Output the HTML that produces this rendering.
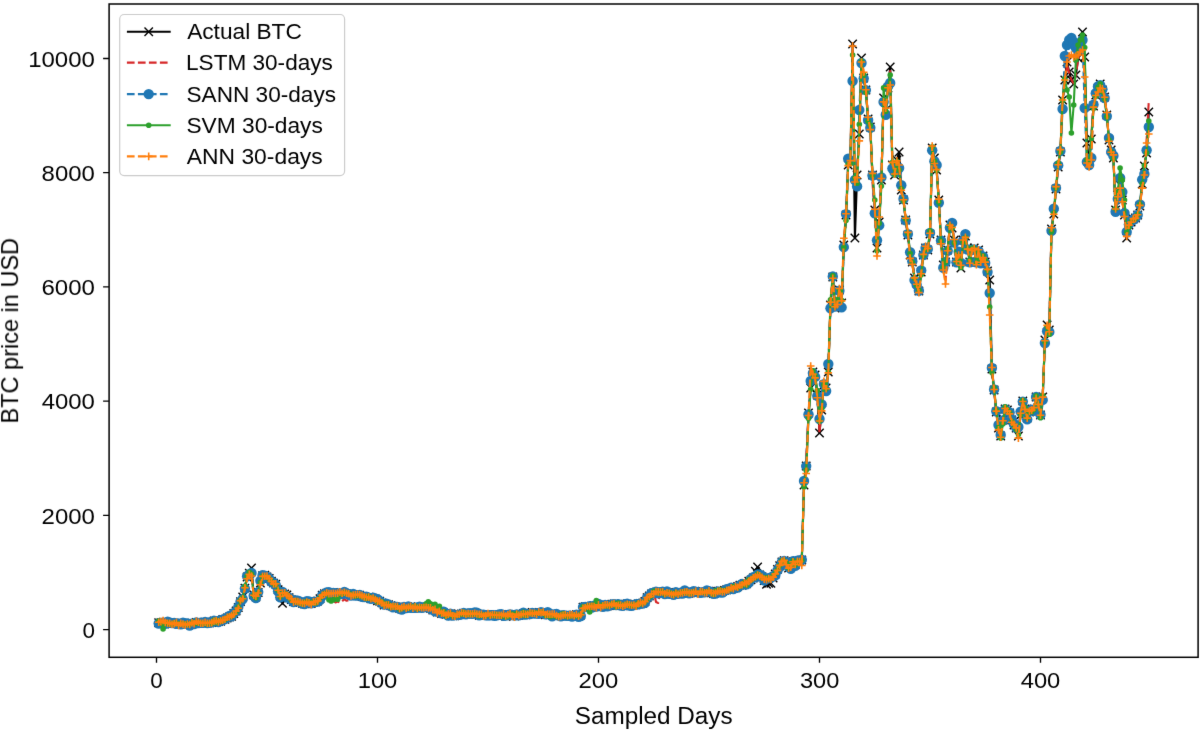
<!DOCTYPE html>
<html><head><meta charset="utf-8"><style>
html,body{margin:0;padding:0;background:#fff;}
svg{display:block;}
svg{will-change:transform;}
text{font-family:"Liberation Sans",sans-serif;fill:#000;}
</style></head><body>
<svg width="1200" height="730" viewBox="0 0 1200 730">
<defs>
<filter id="bl" x="0" y="0" width="1200" height="730" filterUnits="userSpaceOnUse" color-interpolation-filters="sRGB"><feConvolveMatrix order="3" kernelMatrix="0.00524 0.06192 0.00524 0.06192 0.73137 0.06192 0.00524 0.06192 0.00524" edgeMode="duplicate"/></filter>
<clipPath id="ax"><rect x="109.1" y="4.0" width="1089.0" height="653.3"/></clipPath>
<marker id="mx" markerUnits="userSpaceOnUse" markerWidth="14" markerHeight="14" refX="7" refY="7" overflow="visible">
<path d="M2.8,2.8L11.2,11.2M11.2,2.8L2.8,11.2" stroke="#000" stroke-width="1.4" fill="none"/></marker>
<marker id="mo" markerUnits="userSpaceOnUse" markerWidth="14" markerHeight="14" refX="7" refY="7" overflow="visible">
<circle cx="7" cy="7" r="5.2" fill="#1f77b4"/></marker>
<marker id="md" markerUnits="userSpaceOnUse" markerWidth="14" markerHeight="14" refX="7" refY="7" overflow="visible">
<circle cx="7" cy="7" r="2.8" fill="#2ca02c"/></marker>
<marker id="mp" markerUnits="userSpaceOnUse" markerWidth="14" markerHeight="14" refX="7" refY="7" overflow="visible">
<path d="M7,3.2V10.8M3.2,7H10.8" stroke="#ff7f0e" stroke-width="1.6" fill="none"/></marker>
</defs>
<g filter="url(#bl)">
<rect width="1200" height="730" fill="#fff"/>
<g clip-path="url(#ax)" fill="none" stroke-linejoin="round">
<polyline points="158.7,622.8 160.9,622.6 163.1,622.3 165.3,622.6 167.6,622.4 169.8,623.1 172.0,624.0 174.2,623.0 176.4,623.1 178.6,623.9 180.8,623.9 183.0,623.9 185.2,623.4 187.4,624.0 189.7,624.4 191.9,623.1 194.1,623.5 196.3,622.5 198.5,622.7 200.7,622.3 202.9,623.1 205.1,622.3 207.3,623.1 209.5,622.9 211.8,622.6 214.0,620.9 216.2,621.7 218.4,621.5 220.6,621.2 222.8,619.5 225.0,619.2 227.2,618.0 229.4,617.0 231.6,616.4 233.8,613.5 236.1,611.0 238.3,607.5 240.5,601.6 242.7,596.9 244.9,588.1 247.1,577.0 249.3,573.3 251.5,568.0 253.7,594.8 255.9,597.1 258.2,592.5 260.4,583.1 262.6,575.6 264.8,575.2 267.0,577.0 269.2,578.4 271.4,581.1 273.6,583.1 275.8,584.2 278.1,589.6 280.3,596.1 282.5,603.4 284.7,594.0 286.9,594.9 289.1,597.7 291.3,599.6 293.5,601.5 295.7,601.1 297.9,601.8 300.1,602.4 302.4,603.4 304.6,603.7 306.8,602.3 309.0,602.7 311.2,603.6 313.4,602.1 315.6,601.9 317.8,601.0 320.0,598.7 322.2,595.1 324.5,593.6 326.7,593.3 328.9,593.1 331.1,593.9 333.3,592.4 335.5,592.7 337.7,593.3 339.9,593.3 342.1,593.4 344.4,593.1 346.6,594.0 348.8,593.9 351.0,595.1 353.2,595.0 355.4,594.8 357.6,595.5 359.8,595.1 362.0,596.5 364.2,596.6 366.4,597.6 368.7,597.1 370.9,598.8 373.1,598.2 375.3,598.9 377.5,600.8 379.7,601.3 381.9,602.9 384.1,605.0 386.3,604.1 388.5,604.8 390.8,605.8 393.0,606.6 395.2,606.7 397.4,607.2 399.6,608.3 401.8,608.2 404.0,607.2 406.2,607.6 408.4,607.6 410.6,606.8 412.9,607.5 415.1,606.8 417.3,607.9 419.5,607.4 421.7,607.4 423.9,606.9 426.1,607.2 428.3,606.8 430.5,608.2 432.8,610.0 435.0,609.4 437.2,612.1 439.4,611.4 441.6,613.5 443.8,612.9 446.0,614.3 448.2,614.4 450.4,613.8 452.6,615.9 454.9,615.9 457.1,614.7 459.3,614.2 461.5,614.0 463.7,613.2 465.9,614.1 468.1,613.1 470.3,613.7 472.5,613.4 474.7,613.8 476.9,613.6 479.2,615.4 481.4,614.7 483.6,615.4 485.8,615.0 488.0,614.6 490.2,615.0 492.4,614.9 494.6,615.3 496.8,615.1 499.1,615.1 501.3,614.5 503.5,614.8 505.7,616.3 507.9,614.9 510.1,614.7 512.3,615.5 514.5,616.1 516.7,614.4 518.9,615.2 521.1,614.7 523.4,613.6 525.6,614.7 527.8,613.8 530.0,613.4 532.2,612.5 534.4,613.1 536.6,612.7 538.8,613.2 541.0,612.8 543.2,612.9 545.5,614.7 547.7,613.9 549.9,614.8 552.1,615.0 554.3,615.1 556.5,615.4 558.7,615.9 560.9,615.2 563.1,615.2 565.3,615.3 567.6,616.1 569.8,615.8 572.0,615.6 574.2,615.1 576.4,614.6 578.6,616.0 580.8,615.1 583.0,607.3 585.2,606.8 587.5,606.8 589.7,606.8 591.9,606.7 594.1,605.8 596.3,606.9 598.5,605.1 600.7,606.1 602.9,605.7 605.1,605.7 607.3,606.1 609.5,605.6 611.8,604.1 614.0,603.9 616.2,605.5 618.4,604.5 620.6,605.2 622.8,605.8 625.0,604.2 627.2,603.9 629.4,605.2 631.6,605.0 633.9,604.7 636.1,604.8 638.3,604.0 640.5,603.4 642.7,603.2 644.9,601.5 647.1,597.8 649.3,596.0 651.5,593.9 653.8,592.9 656.0,592.1 658.2,592.3 660.4,592.1 662.6,592.2 664.8,592.9 667.0,592.4 669.2,593.2 671.4,593.3 673.6,594.4 675.9,592.4 678.1,593.8 680.3,593.1 682.5,593.0 684.7,592.1 686.9,592.6 689.1,593.2 691.3,592.5 693.5,592.4 695.7,591.9 698.0,592.8 700.2,592.3 702.4,591.2 704.6,592.4 706.8,591.8 709.0,591.3 711.2,592.8 713.4,593.5 715.6,592.3 717.8,591.2 720.0,590.9 722.3,591.6 724.5,590.4 726.7,589.7 728.9,589.1 731.1,588.5 733.3,588.3 735.5,587.4 737.7,586.5 739.9,585.1 742.1,585.3 744.4,583.6 746.6,583.7 748.8,581.2 751.0,579.9 753.2,578.0 755.4,571.2 757.6,567.0 759.8,574.9 762.0,576.7 764.2,580.5 766.5,584.2 768.7,583.4 770.9,583.2 773.1,578.0 775.3,574.0 777.5,569.4 779.7,565.8 781.9,561.9 784.1,560.7 786.4,563.2 788.6,568.0 790.8,566.9 793.0,561.7 795.2,564.8 797.4,560.9 799.6,560.9 801.8,560.0 804.0,485.0 806.2,466.0 808.5,413.0 810.7,388.0 812.9,372.0 815.1,375.0 817.3,395.0 819.5,433.0 821.7,410.0 823.9,385.0 826.1,388.0 828.3,372.0 830.5,305.0 832.8,277.0 835.0,308.0 837.2,300.0 839.4,290.0 841.6,303.0 843.8,245.0 846.0,215.0 848.2,165.0 850.4,160.0 852.6,44.0 854.9,238.0 857.1,175.0 859.3,134.0 861.5,58.0 863.7,78.0 865.9,90.0 868.1,119.0 870.3,127.0 872.5,175.0 874.8,210.0 877.0,248.0 879.2,222.0 881.4,180.0 883.6,98.0 885.8,110.0 888.0,88.0 890.2,67.0 892.4,165.0 894.6,175.0 896.9,160.0 899.1,152.0 901.3,190.0 903.5,200.0 905.7,220.0 907.9,235.0 910.1,255.0 912.3,262.0 914.5,278.0 916.7,283.0 918.9,291.0 921.2,272.0 923.4,255.0 925.6,248.0 927.8,250.0 930.0,234.0 932.2,148.0 934.4,158.0 936.6,170.0 938.8,200.0 941.0,240.0 943.3,265.0 945.5,262.0 947.7,250.0 949.9,225.0 952.1,228.0 954.3,240.0 956.5,262.0 958.7,255.0 960.9,268.0 963.1,240.0 965.4,236.0 967.6,248.0 969.8,262.0 972.0,250.0 974.2,248.0 976.4,262.0 978.6,250.0 980.8,262.0 983.0,256.0 985.2,262.0 987.5,271.0 989.7,280.0 991.9,369.0 994.1,390.0 996.3,412.0 998.5,428.0 1000.7,436.0 1002.9,420.0 1005.1,409.0 1007.4,410.0 1009.6,413.0 1011.8,420.0 1014.0,425.0 1016.2,428.0 1018.4,436.0 1020.6,415.0 1022.8,401.0 1025.0,409.0 1027.2,418.0 1029.4,412.0 1031.7,410.0 1033.9,409.0 1036.1,397.0 1038.3,405.0 1040.5,415.0 1042.7,397.0 1044.9,340.0 1047.1,325.0 1049.3,330.0 1051.5,229.0 1053.8,214.0 1056.0,189.0 1058.2,167.0 1060.4,152.0 1062.6,100.0 1064.8,80.0 1067.0,62.0 1069.2,72.0 1071.4,80.0 1073.7,84.0 1075.9,75.0 1078.1,58.0 1080.3,45.0 1082.5,32.0 1084.7,57.0 1086.9,143.0 1089.1,162.0 1091.3,139.0 1093.5,106.0 1095.8,95.0 1098.0,88.0 1100.2,84.0 1102.4,90.0 1104.6,97.0 1106.8,115.0 1109.0,140.0 1111.2,150.0 1113.4,158.0 1115.6,210.0 1117.8,195.0 1120.1,185.0 1122.3,200.0 1124.5,215.0 1126.7,238.0 1128.9,225.0 1131.1,222.0 1133.3,219.0 1135.5,218.0 1137.7,215.0 1139.9,206.0 1142.2,184.0 1144.4,166.0 1146.6,153.0 1148.8,112.0" stroke="#000" stroke-width="2.1" marker-start="url(#mx)" marker-mid="url(#mx)" marker-end="url(#mx)"/>
<polyline points="158.7,623.7 160.9,623.3 163.1,621.9 165.3,622.4 167.6,622.1 169.8,623.5 172.0,624.0 174.2,623.5 176.4,621.9 178.6,624.8 180.8,623.8 183.0,624.3 185.2,623.3 187.4,623.8 189.7,624.7 191.9,623.6 194.1,623.4 196.3,622.4 198.5,623.2 200.7,621.8 202.9,622.2 205.1,622.6 207.3,622.7 209.5,621.7 211.8,622.1 214.0,620.6 216.2,620.9 218.4,620.6 220.6,621.3 222.8,620.1 225.0,619.1 227.2,617.5 229.4,617.3 231.6,616.9 233.8,613.3 236.1,611.4 238.3,608.5 240.5,601.4 242.7,596.0 244.9,588.5 247.1,577.3 249.3,574.5 251.5,574.0 253.7,593.8 255.9,595.8 258.2,590.6 260.4,583.2 262.6,576.2 264.8,574.5 267.0,578.1 269.2,579.0 271.4,581.6 273.6,583.4 275.8,585.0 278.1,588.3 280.3,596.7 282.5,594.0 284.7,592.0 286.9,595.2 289.1,597.5 291.3,600.2 293.5,601.2 295.7,601.1 297.9,602.0 300.1,601.8 302.4,603.8 304.6,603.7 306.8,602.6 309.0,602.4 311.2,604.3 313.4,602.4 315.6,601.8 317.8,601.5 320.0,599.7 322.2,596.5 324.5,592.5 326.7,593.9 328.9,593.4 331.1,593.8 333.3,600.8 335.5,602.5 337.7,601.6 339.9,602.6 342.1,601.2 344.4,599.1 346.6,600.8 348.8,600.1 351.0,595.3 353.2,596.0 355.4,596.1 357.6,594.4 359.8,594.7 362.0,597.0 364.2,597.6 366.4,597.9 368.7,596.6 370.9,599.0 373.1,598.2 375.3,598.7 377.5,600.3 379.7,601.6 381.9,603.1 384.1,604.9 386.3,603.9 388.5,603.9 390.8,605.5 393.0,607.3 395.2,606.6 397.4,606.3 399.6,609.2 401.8,608.5 404.0,608.4 406.2,607.7 408.4,607.3 410.6,605.9 412.9,608.3 415.1,608.3 417.3,607.4 419.5,607.0 421.7,607.7 423.9,606.4 426.1,607.1 428.3,606.5 430.5,608.3 432.8,610.7 435.0,609.4 437.2,612.7 439.4,611.1 441.6,613.7 443.8,611.6 446.0,613.4 448.2,614.9 450.4,613.4 452.6,616.3 454.9,616.3 457.1,615.5 459.3,614.8 461.5,614.6 463.7,613.1 465.9,613.6 468.1,612.7 470.3,613.4 472.5,612.7 474.7,613.4 476.9,613.6 479.2,615.5 481.4,614.5 483.6,614.3 485.8,614.9 488.0,614.8 490.2,615.6 492.4,615.3 494.6,614.9 496.8,614.6 499.1,616.3 501.3,614.9 503.5,615.9 505.7,617.6 507.9,614.4 510.1,614.9 512.3,615.8 514.5,616.5 516.7,614.8 518.9,615.3 521.1,614.8 523.4,612.6 525.6,614.5 527.8,613.3 530.0,613.5 532.2,612.2 534.4,613.5 536.6,613.2 538.8,613.3 541.0,613.0 543.2,613.0 545.5,614.4 547.7,613.8 549.9,614.4 552.1,615.2 554.3,615.1 556.5,615.7 558.7,615.1 560.9,615.8 563.1,614.8 565.3,614.9 567.6,615.9 569.8,615.4 572.0,615.8 574.2,614.7 576.4,614.0 578.6,615.5 580.8,616.1 583.0,607.3 585.2,605.8 587.5,606.8 589.7,605.8 591.9,607.8 594.1,604.9 596.3,607.2 598.5,605.4 600.7,605.2 602.9,605.9 605.1,606.3 607.3,606.4 609.5,605.8 611.8,604.7 614.0,604.0 616.2,605.7 618.4,604.4 620.6,605.6 622.8,605.2 625.0,604.7 627.2,603.6 629.4,604.5 631.6,605.2 633.9,605.7 636.1,605.3 638.3,603.7 640.5,603.8 642.7,602.9 644.9,601.4 647.1,597.9 649.3,594.1 651.5,594.0 653.8,592.2 656.0,602.0 658.2,603.0 660.4,591.2 662.6,591.6 664.8,593.4 667.0,593.4 669.2,593.2 671.4,593.9 673.6,594.2 675.9,591.3 678.1,593.9 680.3,593.4 682.5,592.8 684.7,592.3 686.9,592.9 689.1,592.7 691.3,591.6 693.5,592.2 695.7,591.8 698.0,592.6 700.2,592.9 702.4,592.3 704.6,592.1 706.8,592.2 709.0,591.8 711.2,593.2 713.4,594.1 715.6,592.1 717.8,591.7 720.0,592.2 722.3,592.1 724.5,590.0 726.7,590.1 728.9,589.9 731.1,588.8 733.3,587.9 735.5,588.4 737.7,585.7 739.9,585.4 742.1,585.3 744.4,582.8 746.6,584.5 748.8,581.5 751.0,579.1 753.2,578.5 755.4,576.6 757.6,573.3 759.8,575.3 762.0,577.3 764.2,578.6 766.5,579.1 768.7,579.0 770.9,578.4 773.1,575.8 775.3,575.2 777.5,569.5 779.7,566.1 781.9,562.4 784.1,559.8 786.4,562.6 788.6,569.3 790.8,567.2 793.0,561.4 795.2,565.1 797.4,560.5 799.6,561.1 801.8,558.2 804.0,485.9 806.2,458.9 808.5,417.2 810.7,386.4 812.9,369.2 815.1,374.6 817.3,394.2 819.5,433.4 821.7,406.7 823.9,385.8 826.1,394.4 828.3,368.3 830.5,306.2 832.8,275.8 835.0,308.5 837.2,296.5 839.4,288.4 841.6,304.3 843.8,244.9 846.0,222.0 848.2,163.0 850.4,160.9 852.6,52.0 854.9,185.0 857.1,167.3 859.3,133.8 861.5,64.0 863.7,80.9 865.9,90.3 868.1,117.6 870.3,127.6 872.5,183.0 874.8,214.9 877.0,239.0 879.2,221.5 881.4,176.0 883.6,100.6 885.8,109.4 888.0,92.0 890.2,71.1 892.4,168.6 894.6,175.7 896.9,159.9 899.1,166.0 901.3,192.7 903.5,201.3 905.7,219.4 907.9,237.6 910.1,255.3 912.3,261.9 914.5,276.9 916.7,282.2 918.9,290.1 921.2,267.0 923.4,256.8 925.6,248.7 927.8,249.7 930.0,237.5 932.2,149.6 934.4,159.3 936.6,165.1 938.8,199.4 941.0,241.7 943.3,268.9 945.5,280.0 947.7,252.4 949.9,223.1 952.1,224.3 954.3,240.9 956.5,262.0 958.7,256.7 960.9,267.8 963.1,240.4 965.4,233.3 967.6,248.6 969.8,261.3 972.0,250.5 974.2,248.6 976.4,261.8 978.6,250.5 980.8,262.0 983.0,256.9 985.2,262.6 987.5,270.3 989.7,300.0 991.9,375.6 994.1,389.6 996.3,414.2 998.5,428.7 1000.7,435.1 1002.9,418.9 1005.1,409.2 1007.4,410.3 1009.6,413.5 1011.8,418.7 1014.0,424.4 1016.2,427.9 1018.4,438.3 1020.6,410.9 1022.8,401.8 1025.0,408.2 1027.2,418.5 1029.4,411.5 1031.7,410.3 1033.9,410.6 1036.1,397.4 1038.3,405.6 1040.5,415.6 1042.7,394.8 1044.9,341.6 1047.1,324.4 1049.3,326.9 1051.5,228.9 1053.8,213.0 1056.0,190.7 1058.2,166.9 1060.4,150.4 1062.6,104.3 1064.8,83.0 1067.0,64.4 1069.2,72.9 1071.4,79.9 1073.7,83.5 1075.9,74.6 1078.1,59.6 1080.3,45.2 1082.5,40.0 1084.7,70.0 1086.9,158.0 1089.1,164.0 1091.3,135.9 1093.5,103.0 1095.8,95.2 1098.0,87.9 1100.2,82.2 1102.4,90.8 1104.6,100.1 1106.8,112.1 1109.0,143.7 1111.2,148.8 1113.4,156.8 1115.6,209.5 1117.8,191.2 1120.1,187.2 1122.3,200.8 1124.5,213.5 1126.7,237.5 1128.9,222.5 1131.1,221.6 1133.3,219.7 1135.5,216.7 1137.7,214.6 1139.9,206.2 1142.2,186.0 1144.4,168.7 1146.6,140.0 1148.8,101.0" stroke="#d62728" stroke-width="2.1" stroke-dasharray="7.7,3.3"/>
<polyline points="158.7,623.5 160.9,623.0 163.1,622.7 165.3,623.7 167.6,621.6 169.8,622.7 172.0,623.1 174.2,623.0 176.4,623.7 178.6,623.8 180.8,624.2 183.0,622.6 185.2,623.5 187.4,623.4 189.7,625.6 191.9,623.7 194.1,624.1 196.3,622.5 198.5,623.1 200.7,622.7 202.9,622.9 205.1,622.0 207.3,623.0 209.5,622.5 211.8,622.2 214.0,620.7 216.2,621.2 218.4,622.1 220.6,620.1 222.8,620.1 225.0,618.8 227.2,617.6 229.4,616.0 231.6,616.3 233.8,613.3 236.1,611.1 238.3,607.0 240.5,601.7 242.7,599.0 244.9,588.6 247.1,576.3 249.3,574.4 251.5,573.0 253.7,595.8 255.9,598.1 258.2,592.1 260.4,580.7 262.6,575.2 264.8,575.7 267.0,576.7 269.2,578.7 271.4,581.9 273.6,582.6 275.8,585.3 278.1,591.3 280.3,597.3 282.5,592.0 284.7,595.2 286.9,597.2 289.1,597.8 291.3,599.6 293.5,602.0 295.7,600.4 297.9,600.7 300.1,601.8 302.4,603.6 304.6,604.0 306.8,601.3 309.0,601.5 311.2,603.4 313.4,601.9 315.6,601.9 317.8,601.6 320.0,599.8 322.2,595.3 324.5,594.1 326.7,592.5 328.9,592.3 331.1,594.0 333.3,592.9 335.5,593.2 337.7,593.7 339.9,593.8 342.1,594.0 344.4,591.9 346.6,593.5 348.8,594.2 351.0,595.5 353.2,594.0 355.4,595.6 357.6,595.2 359.8,594.9 362.0,596.7 364.2,597.1 366.4,596.6 368.7,597.8 370.9,598.8 373.1,597.7 375.3,598.7 377.5,599.2 379.7,600.9 381.9,603.0 384.1,604.5 386.3,603.8 388.5,604.7 390.8,605.9 393.0,607.3 395.2,606.7 397.4,607.0 399.6,608.7 401.8,609.6 404.0,606.9 406.2,608.0 408.4,606.5 410.6,607.7 412.9,607.9 415.1,607.7 417.3,607.8 419.5,606.7 421.7,607.9 423.9,607.4 426.1,606.6 428.3,605.7 430.5,608.5 432.8,609.9 435.0,611.3 437.2,611.6 439.4,611.0 441.6,613.4 443.8,611.8 446.0,613.7 448.2,615.5 450.4,613.7 452.6,615.5 454.9,615.1 457.1,615.1 459.3,614.7 461.5,614.2 463.7,612.9 465.9,614.3 468.1,613.4 470.3,613.2 472.5,613.9 474.7,612.4 476.9,612.8 479.2,615.2 481.4,614.6 483.6,614.7 485.8,615.2 488.0,615.3 490.2,615.3 492.4,615.1 494.6,615.8 496.8,615.3 499.1,614.4 501.3,614.3 503.5,615.7 505.7,615.6 507.9,614.9 510.1,614.4 512.3,614.9 514.5,615.5 516.7,614.5 518.9,615.4 521.1,614.9 523.4,612.6 525.6,614.5 527.8,614.0 530.0,614.0 532.2,612.9 534.4,613.6 536.6,613.4 538.8,613.7 541.0,612.2 543.2,613.0 545.5,614.2 547.7,612.3 549.9,613.6 552.1,616.4 554.3,614.4 556.5,613.9 558.7,615.5 560.9,616.3 563.1,615.2 565.3,615.6 567.6,615.9 569.8,615.7 572.0,616.5 574.2,615.6 576.4,614.6 578.6,616.7 580.8,616.0 583.0,607.1 585.2,607.0 587.5,607.0 589.7,606.3 591.9,607.5 594.1,605.7 596.3,606.5 598.5,604.0 600.7,605.3 602.9,606.7 605.1,604.9 607.3,606.4 609.5,605.4 611.8,604.4 614.0,604.3 616.2,605.0 618.4,604.3 620.6,605.2 622.8,605.9 625.0,604.2 627.2,603.7 629.4,605.6 631.6,605.8 633.9,605.0 636.1,604.3 638.3,604.3 640.5,603.4 642.7,603.5 644.9,602.9 647.1,597.7 649.3,596.0 651.5,593.1 653.8,592.7 656.0,591.7 658.2,593.3 660.4,592.3 662.6,591.8 664.8,594.1 667.0,591.5 669.2,593.7 671.4,593.9 673.6,594.8 675.9,592.3 678.1,593.7 680.3,592.9 682.5,593.5 684.7,590.5 686.9,592.2 689.1,593.3 691.3,592.1 693.5,591.2 695.7,591.8 698.0,592.3 700.2,592.9 702.4,592.2 704.6,592.4 706.8,590.5 709.0,591.1 711.2,592.1 713.4,593.9 715.6,593.5 717.8,591.4 720.0,592.3 722.3,592.6 724.5,590.9 726.7,589.1 728.9,589.2 731.1,587.6 733.3,589.1 735.5,587.6 737.7,587.6 739.9,585.4 742.1,584.0 744.4,584.2 746.6,584.4 748.8,582.6 751.0,579.3 753.2,577.3 755.4,577.2 757.6,574.4 759.8,574.6 762.0,576.0 764.2,580.5 766.5,578.6 768.7,578.3 770.9,577.7 773.1,576.1 775.3,575.4 777.5,570.4 779.7,566.7 781.9,562.0 784.1,560.9 786.4,562.7 788.6,566.7 790.8,568.9 793.0,561.3 795.2,565.8 797.4,560.7 799.6,560.9 801.8,559.8 804.0,481.0 806.2,466.1 808.5,414.5 810.7,381.0 812.9,373.1 815.1,376.9 817.3,395.9 819.5,419.0 821.7,404.5 823.9,384.1 826.1,391.0 828.3,364.0 830.5,308.2 832.8,276.5 835.0,306.6 837.2,304.2 839.4,290.7 841.6,307.4 843.8,247.1 846.0,214.1 848.2,158.7 850.4,160.9 852.6,81.0 854.9,180.0 857.1,186.4 859.3,110.0 861.5,63.0 863.7,78.5 865.9,90.1 868.1,120.0 870.3,127.7 872.5,175.5 874.8,213.2 877.0,240.2 879.2,225.4 881.4,177.4 883.6,102.0 885.8,114.7 888.0,86.4 890.2,83.0 892.4,168.5 894.6,172.4 896.9,172.0 899.1,168.0 901.3,185.3 903.5,199.0 905.7,220.4 907.9,234.1 910.1,252.2 912.3,261.3 914.5,280.1 916.7,284.9 918.9,290.8 921.2,270.5 923.4,255.0 925.6,248.0 927.8,249.1 930.0,232.9 932.2,150.3 934.4,161.3 936.6,165.0 938.8,202.8 941.0,240.4 943.3,267.8 945.5,262.0 947.7,250.8 949.9,227.8 952.1,222.9 954.3,242.6 956.5,262.3 958.7,251.8 960.9,262.9 963.1,240.6 965.4,234.1 967.6,249.5 969.8,262.4 972.0,249.8 974.2,249.4 976.4,262.3 978.6,251.2 980.8,263.2 983.0,256.4 985.2,263.0 987.5,272.0 989.7,293.0 991.9,368.0 994.1,389.5 996.3,411.2 998.5,425.0 1000.7,435.0 1002.9,420.5 1005.1,409.3 1007.4,411.6 1009.6,412.4 1011.8,419.5 1014.0,424.4 1016.2,427.7 1018.4,427.0 1020.6,411.6 1022.8,401.6 1025.0,410.5 1027.2,419.4 1029.4,410.8 1031.7,409.8 1033.9,410.9 1036.1,396.9 1038.3,405.5 1040.5,414.8 1042.7,399.9 1044.9,343.0 1047.1,331.3 1049.3,331.9 1051.5,230.7 1053.8,208.7 1056.0,188.1 1058.2,165.4 1060.4,151.0 1062.6,109.0 1064.8,56.0 1067.0,45.0 1069.2,40.0 1071.4,38.0 1073.7,42.0 1075.9,48.0 1078.1,50.0 1080.3,44.0 1082.5,40.0 1084.7,108.0 1086.9,162.0 1089.1,165.0 1091.3,158.0 1093.5,104.6 1095.8,93.3 1098.0,86.5 1100.2,85.1 1102.4,89.2 1104.6,98.0 1106.8,116.1 1109.0,137.9 1111.2,151.9 1113.4,155.8 1115.6,211.7 1117.8,198.9 1120.1,178.0 1122.3,192.0 1124.5,213.1 1126.7,232.0 1128.9,224.4 1131.1,220.5 1133.3,219.7 1135.5,217.9 1137.7,215.0 1139.9,204.4 1142.2,179.6 1144.4,174.0 1146.6,150.3 1148.8,127.0" stroke="#1f77b4" stroke-width="2.1" stroke-dasharray="7.7,3.3" marker-start="url(#mo)" marker-mid="url(#mo)" marker-end="url(#mo)"/>
<polyline points="158.7,621.0 160.9,623.1 163.1,629.0 165.3,623.4 167.6,622.6 169.8,624.3 172.0,624.0 174.2,622.7 176.4,623.4 178.6,624.1 180.8,623.7 183.0,623.7 185.2,623.8 187.4,624.5 189.7,624.1 191.9,622.9 194.1,622.4 196.3,623.5 198.5,622.6 200.7,623.1 202.9,623.4 205.1,623.5 207.3,624.1 209.5,623.1 211.8,623.5 214.0,620.3 216.2,622.4 218.4,620.6 220.6,621.5 222.8,620.2 225.0,619.4 227.2,617.8 229.4,616.4 231.6,616.1 233.8,614.3 236.1,611.7 238.3,607.3 240.5,600.4 242.7,597.7 244.9,586.2 247.1,576.4 249.3,572.4 251.5,574.0 253.7,595.2 255.9,597.8 258.2,592.8 260.4,582.3 262.6,576.2 264.8,576.5 267.0,577.0 269.2,578.9 271.4,581.0 273.6,583.8 275.8,584.8 278.1,590.5 280.3,596.4 282.5,594.0 284.7,593.6 286.9,594.5 289.1,597.2 291.3,600.0 293.5,601.1 295.7,600.6 297.9,602.2 300.1,603.1 302.4,603.7 304.6,602.1 306.8,601.7 309.0,602.0 311.2,602.9 313.4,601.8 315.6,603.1 317.8,600.8 320.0,598.1 322.2,595.6 324.5,593.6 326.7,593.4 328.9,599.7 331.1,600.9 333.3,599.7 335.5,598.5 337.7,599.3 339.9,593.9 342.1,594.0 344.4,592.8 346.6,593.3 348.8,593.8 351.0,594.4 353.2,594.8 355.4,595.9 357.6,595.5 359.8,595.8 362.0,596.4 364.2,596.8 366.4,598.5 368.7,596.3 370.9,598.6 373.1,598.1 375.3,599.1 377.5,601.9 379.7,601.8 381.9,601.9 384.1,604.8 386.3,603.5 388.5,604.2 390.8,607.1 393.0,605.9 395.2,606.9 397.4,606.8 399.6,608.9 401.8,608.4 404.0,607.2 406.2,607.6 408.4,608.3 410.6,606.2 412.9,607.0 415.1,606.1 417.3,608.7 419.5,607.2 421.7,606.7 423.9,606.7 426.1,603.8 428.3,601.7 430.5,603.7 432.8,605.3 435.0,604.4 437.2,606.6 439.4,606.2 441.6,613.2 443.8,611.5 446.0,616.0 448.2,615.0 450.4,613.9 452.6,615.8 454.9,615.4 457.1,615.3 459.3,614.1 461.5,614.3 463.7,612.3 465.9,614.3 468.1,614.4 470.3,613.5 472.5,613.9 474.7,613.8 476.9,614.3 479.2,616.0 481.4,614.7 483.6,615.1 485.8,615.1 488.0,614.7 490.2,614.6 492.4,615.2 494.6,615.6 496.8,614.5 499.1,615.1 501.3,616.2 503.5,615.3 505.7,616.4 507.9,616.4 510.1,614.4 512.3,614.0 514.5,615.0 516.7,613.5 518.9,615.3 521.1,615.3 523.4,612.2 525.6,615.4 527.8,613.0 530.0,613.6 532.2,612.8 534.4,613.3 536.6,612.7 538.8,613.3 541.0,612.1 543.2,613.1 545.5,615.3 547.7,614.5 549.9,616.4 552.1,615.6 554.3,615.6 556.5,616.4 558.7,616.1 560.9,614.5 563.1,613.9 565.3,616.1 567.6,616.4 569.8,616.3 572.0,615.4 574.2,615.3 576.4,615.8 578.6,616.3 580.8,614.1 583.0,606.9 585.2,607.9 587.5,606.1 589.7,612.0 591.9,605.3 594.1,605.0 596.3,600.5 598.5,605.1 600.7,605.7 602.9,604.9 605.1,605.6 607.3,606.0 609.5,605.3 611.8,603.9 614.0,603.4 616.2,606.6 618.4,603.0 620.6,605.2 622.8,605.2 625.0,604.7 627.2,603.7 629.4,605.4 631.6,605.3 633.9,604.8 636.1,605.4 638.3,603.1 640.5,604.0 642.7,603.0 644.9,601.8 647.1,599.1 649.3,597.0 651.5,595.4 653.8,591.4 656.0,591.5 658.2,592.9 660.4,591.4 662.6,592.1 664.8,593.9 667.0,592.9 669.2,592.6 671.4,593.5 673.6,594.8 675.9,592.5 678.1,593.7 680.3,593.2 682.5,592.1 684.7,592.1 686.9,592.0 689.1,593.4 691.3,592.8 693.5,591.8 695.7,592.3 698.0,593.0 700.2,592.3 702.4,591.7 704.6,592.2 706.8,591.6 709.0,591.3 711.2,592.7 713.4,594.2 715.6,590.8 717.8,591.0 720.0,589.7 722.3,591.2 724.5,590.5 726.7,589.7 728.9,589.7 731.1,588.7 733.3,586.5 735.5,586.7 737.7,587.5 739.9,586.1 742.1,585.3 744.4,582.5 746.6,585.1 748.8,579.7 751.0,580.1 753.2,577.9 755.4,577.2 757.6,574.1 759.8,575.5 762.0,578.0 764.2,577.5 766.5,577.8 768.7,578.9 770.9,578.0 773.1,575.8 775.3,573.2 777.5,569.8 779.7,565.6 781.9,560.8 784.1,560.8 786.4,563.1 788.6,568.0 790.8,565.3 793.0,560.9 795.2,565.1 797.4,561.6 799.6,561.1 801.8,560.2 804.0,487.0 806.2,470.2 808.5,418.4 810.7,389.3 812.9,370.9 815.1,375.7 817.3,390.6 819.5,421.0 821.7,408.6 823.9,384.9 826.1,388.8 828.3,372.1 830.5,299.8 832.8,275.5 835.0,306.0 837.2,299.9 839.4,290.5 841.6,300.3 843.8,247.4 846.0,220.5 848.2,164.2 850.4,163.7 852.6,55.0 854.9,178.0 857.1,183.2 859.3,124.4 861.5,61.0 863.7,74.9 865.9,92.5 868.1,121.2 870.3,125.2 872.5,175.4 874.8,200.0 877.0,250.7 879.2,223.2 881.4,186.1 883.6,87.9 885.8,111.3 888.0,87.3 890.2,75.0 892.4,162.2 894.6,174.7 896.9,161.2 899.1,170.0 901.3,188.9 903.5,201.1 905.7,219.0 907.9,233.6 910.1,253.2 912.3,262.2 914.5,278.2 916.7,285.5 918.9,290.3 921.2,274.8 923.4,255.6 925.6,249.5 927.8,248.8 930.0,231.0 932.2,146.9 934.4,161.1 936.6,170.3 938.8,202.1 941.0,241.0 943.3,267.5 945.5,262.3 947.7,249.1 949.9,225.9 952.1,228.2 954.3,242.8 956.5,261.7 958.7,255.2 960.9,267.4 963.1,242.1 965.4,237.6 967.6,248.9 969.8,260.0 972.0,248.0 974.2,248.4 976.4,263.0 978.6,252.4 980.8,259.5 983.0,255.8 985.2,260.0 987.5,269.8 989.7,307.0 991.9,372.6 994.1,387.8 996.3,410.4 998.5,427.4 1000.7,438.1 1002.9,423.7 1005.1,406.9 1007.4,409.7 1009.6,412.6 1011.8,421.2 1014.0,425.4 1016.2,429.6 1018.4,434.5 1020.6,415.0 1022.8,400.2 1025.0,407.4 1027.2,417.8 1029.4,410.8 1031.7,411.8 1033.9,409.4 1036.1,395.8 1038.3,404.2 1040.5,417.7 1042.7,395.6 1044.9,342.1 1047.1,326.5 1049.3,334.2 1051.5,231.4 1053.8,213.1 1056.0,187.7 1058.2,163.0 1060.4,151.9 1062.6,100.4 1064.8,78.9 1067.0,90.0 1069.2,97.0 1071.4,133.0 1073.7,105.0 1075.9,60.0 1078.1,45.0 1080.3,40.0 1082.5,35.0 1084.7,47.5 1086.9,160.0 1089.1,163.0 1091.3,138.5 1093.5,108.4 1095.8,96.5 1098.0,87.2 1100.2,83.9 1102.4,92.0 1104.6,98.9 1106.8,116.7 1109.0,140.0 1111.2,151.7 1113.4,159.0 1115.6,208.6 1117.8,192.4 1120.1,168.0 1122.3,180.0 1124.5,200.0 1126.7,232.0 1128.9,227.3 1131.1,221.6 1133.3,220.0 1135.5,218.4 1137.7,214.5 1139.9,204.6 1142.2,183.8 1144.4,165.5 1146.6,153.0 1148.8,121.0" stroke="#2ca02c" stroke-width="2.1" marker-start="url(#md)" marker-mid="url(#md)" marker-end="url(#md)"/>
<polyline points="158.7,622.3 160.9,621.6 163.1,620.5 165.3,622.4 167.6,623.2 169.8,623.2 172.0,624.3 174.2,623.6 176.4,622.5 178.6,625.5 180.8,623.4 183.0,624.1 185.2,625.0 187.4,624.0 189.7,624.5 191.9,622.8 194.1,623.7 196.3,621.2 198.5,622.3 200.7,623.3 202.9,623.2 205.1,622.2 207.3,623.3 209.5,623.2 211.8,622.6 214.0,621.2 216.2,620.6 218.4,621.9 220.6,620.8 222.8,620.1 225.0,619.2 227.2,617.3 229.4,616.9 231.6,615.6 233.8,614.3 236.1,611.0 238.3,608.3 240.5,600.6 242.7,598.7 244.9,587.7 247.1,578.7 249.3,574.2 251.5,576.0 253.7,595.3 255.9,596.2 258.2,593.0 260.4,584.8 262.6,576.4 264.8,576.2 267.0,576.1 269.2,578.5 271.4,581.4 273.6,583.9 275.8,583.7 278.1,590.2 280.3,596.5 282.5,593.0 284.7,592.8 286.9,595.3 289.1,596.8 291.3,598.6 293.5,602.1 295.7,601.3 297.9,601.6 300.1,602.4 302.4,603.1 304.6,603.4 306.8,602.0 309.0,602.9 311.2,604.4 313.4,601.8 315.6,601.8 317.8,600.9 320.0,597.7 322.2,595.3 324.5,594.2 326.7,592.8 328.9,593.6 331.1,593.5 333.3,593.2 335.5,593.5 337.7,593.1 339.9,592.0 342.1,593.2 344.4,592.2 346.6,593.2 348.8,593.8 351.0,596.0 353.2,595.0 355.4,594.7 357.6,594.3 359.8,594.7 362.0,595.6 364.2,596.9 366.4,597.2 368.7,597.1 370.9,598.8 373.1,598.1 375.3,599.5 377.5,601.1 379.7,601.1 381.9,603.0 384.1,605.4 386.3,605.0 388.5,604.9 390.8,606.8 393.0,606.2 395.2,606.5 397.4,606.3 399.6,608.8 401.8,607.6 404.0,606.5 406.2,608.1 408.4,607.3 410.6,606.3 412.9,608.1 415.1,606.7 417.3,608.4 419.5,607.2 421.7,607.8 423.9,607.6 426.1,607.3 428.3,607.9 430.5,607.9 432.8,609.8 435.0,609.4 437.2,612.7 439.4,611.2 441.6,613.2 443.8,613.1 446.0,615.1 448.2,614.1 450.4,613.0 452.6,615.8 454.9,616.3 457.1,614.4 459.3,614.3 461.5,612.8 463.7,613.2 465.9,614.1 468.1,613.5 470.3,613.8 472.5,613.9 474.7,613.2 476.9,614.0 479.2,614.3 481.4,614.3 483.6,616.1 485.8,615.5 488.0,613.5 490.2,615.3 492.4,614.7 494.6,614.8 496.8,615.2 499.1,615.2 501.3,615.3 503.5,614.0 505.7,616.0 507.9,614.8 510.1,613.6 512.3,616.2 514.5,617.2 516.7,614.1 518.9,615.4 521.1,614.5 523.4,613.8 525.6,614.2 527.8,614.3 530.0,612.7 532.2,613.3 534.4,613.3 536.6,614.2 538.8,612.1 541.0,612.7 543.2,612.1 545.5,614.6 547.7,614.1 549.9,614.2 552.1,614.1 554.3,614.0 556.5,615.5 558.7,616.7 560.9,616.0 563.1,615.2 565.3,614.8 567.6,615.8 569.8,614.9 572.0,614.7 574.2,615.7 576.4,614.5 578.6,616.2 580.8,614.8 583.0,608.4 585.2,607.9 587.5,606.3 589.7,606.5 591.9,606.3 594.1,606.6 596.3,607.7 598.5,604.9 600.7,607.5 602.9,605.7 605.1,604.9 607.3,604.8 609.5,605.5 611.8,604.3 614.0,603.5 616.2,605.7 618.4,605.2 620.6,605.1 622.8,606.3 625.0,605.2 627.2,604.2 629.4,604.8 631.6,605.2 633.9,605.0 636.1,606.1 638.3,603.7 640.5,602.4 642.7,603.4 644.9,601.7 647.1,597.5 649.3,596.5 651.5,594.1 653.8,593.8 656.0,591.6 658.2,591.9 660.4,592.1 662.6,591.9 664.8,593.7 667.0,592.7 669.2,593.2 671.4,594.2 673.6,594.7 675.9,593.0 678.1,594.3 680.3,593.0 682.5,592.9 684.7,592.1 686.9,591.9 689.1,593.0 691.3,593.0 693.5,592.6 695.7,591.3 698.0,594.3 700.2,591.7 702.4,591.6 704.6,592.8 706.8,592.6 709.0,590.7 711.2,592.8 713.4,593.4 715.6,593.0 717.8,591.4 720.0,591.2 722.3,591.9 724.5,591.7 726.7,590.2 728.9,589.7 731.1,587.9 733.3,588.8 735.5,586.6 737.7,587.2 739.9,585.2 742.1,584.7 744.4,582.9 746.6,583.6 748.8,581.4 751.0,579.5 753.2,577.8 755.4,576.8 757.6,575.0 759.8,575.9 762.0,577.3 764.2,579.2 766.5,579.6 768.7,578.6 770.9,579.4 773.1,577.1 775.3,573.9 777.5,570.4 779.7,565.4 781.9,561.3 784.1,560.2 786.4,564.7 788.6,568.2 790.8,567.3 793.0,561.8 795.2,564.5 797.4,561.4 799.6,561.5 801.8,565.5 804.0,482.8 806.2,473.5 808.5,415.5 810.7,366.0 812.9,374.0 815.1,377.9 817.3,397.7 819.5,421.0 821.7,410.9 823.9,381.4 826.1,388.8 828.3,372.9 830.5,302.2 832.8,278.3 835.0,306.8 837.2,304.6 839.4,288.5 841.6,300.9 843.8,238.3 846.0,213.8 848.2,165.6 850.4,160.6 852.6,46.0 854.9,182.0 857.1,177.8 859.3,140.9 861.5,62.0 863.7,72.2 865.9,89.8 868.1,117.2 870.3,129.6 872.5,173.4 874.8,209.3 877.0,256.0 879.2,217.0 881.4,178.5 883.6,101.9 885.8,108.1 888.0,87.7 890.2,85.0 892.4,162.4 894.6,174.0 896.9,160.7 899.1,165.0 901.3,190.2 903.5,199.7 905.7,218.2 907.9,232.4 910.1,258.4 912.3,264.4 914.5,277.9 916.7,284.3 918.9,292.6 921.2,273.7 923.4,254.4 925.6,246.2 927.8,248.4 930.0,233.3 932.2,146.0 934.4,163.5 936.6,169.6 938.8,199.1 941.0,243.8 943.3,270.0 945.5,284.0 947.7,250.8 949.9,225.3 952.1,227.5 954.3,239.5 956.5,261.5 958.7,255.0 960.9,265.2 963.1,240.0 965.4,237.4 967.6,249.1 969.8,263.3 972.0,250.5 974.2,248.3 976.4,264.7 978.6,249.8 980.8,262.3 983.0,257.6 985.2,262.1 987.5,269.4 989.7,315.0 991.9,367.5 994.1,389.5 996.3,411.1 998.5,429.9 1000.7,437.2 1002.9,420.8 1005.1,408.5 1007.4,411.1 1009.6,413.9 1011.8,422.2 1014.0,424.4 1016.2,427.9 1018.4,438.1 1020.6,413.2 1022.8,401.5 1025.0,409.4 1027.2,418.1 1029.4,411.1 1031.7,410.1 1033.9,407.6 1036.1,398.4 1038.3,404.4 1040.5,415.3 1042.7,397.1 1044.9,340.7 1047.1,325.4 1049.3,331.7 1051.5,227.7 1053.8,214.3 1056.0,186.6 1058.2,164.7 1060.4,149.6 1062.6,100.0 1064.8,80.0 1067.0,62.0 1069.2,56.0 1071.4,55.0 1073.7,57.0 1075.9,56.0 1078.1,55.0 1080.3,52.0 1082.5,50.0 1084.7,77.0 1086.9,163.0 1089.1,167.0 1091.3,160.0 1093.5,107.1 1095.8,95.5 1098.0,92.0 1100.2,88.0 1102.4,88.8 1104.6,97.2 1106.8,112.5 1109.0,141.2 1111.2,152.2 1113.4,154.9 1115.6,209.0 1117.8,196.8 1120.1,188.1 1122.3,201.7 1124.5,216.5 1126.7,236.4 1128.9,225.1 1131.1,222.2 1133.3,218.6 1135.5,218.4 1137.7,214.7 1139.9,205.4 1142.2,188.1 1144.4,175.0 1146.6,143.0 1148.8,134.0" stroke="#ff7f0e" stroke-width="2.1" stroke-dasharray="7.7,3.3" marker-start="url(#mp)" marker-mid="url(#mp)" marker-end="url(#mp)"/>
</g>

<rect x="109.1" y="4.0" width="1089.0" height="653.3" fill="none" stroke="#000" stroke-width="1.5"/>
<path d="M156.5,657.3V662.8M377.5,657.3V662.8M598.5,657.3V662.8M819.5,657.3V662.8M1040.5,657.3V662.8M109.1,629.55H103.1M109.1,515.33H103.1M109.1,401.11H103.1M109.1,286.89H103.1M109.1,172.67H103.1M109.1,58.45H103.1" stroke="#000" stroke-width="1.35" fill="none"/>
<text transform="translate(150.25,687.70) scale(0.9872,1)" font-size="22.75">0</text>
<text transform="translate(357.71,687.70) scale(1.0442,1)" font-size="22.75">100</text>
<text transform="translate(578.53,687.70) scale(1.0489,1)" font-size="22.75">200</text>
<text transform="translate(799.89,687.70) scale(1.0392,1)" font-size="22.75">300</text>
<text transform="translate(1020.67,687.70) scale(1.0453,1)" font-size="22.75">400</text>
<text transform="translate(82.39,637.85) scale(0.9872,1)" font-size="22.75">0</text>
<text transform="translate(41.55,523.63) scale(1.0551,1)" font-size="22.75">2000</text>
<text transform="translate(41.69,409.41) scale(1.0523,1)" font-size="22.75">4000</text>
<text transform="translate(41.46,295.19) scale(1.0569,1)" font-size="22.75">6000</text>
<text transform="translate(41.61,180.97) scale(1.0538,1)" font-size="22.75">8000</text>
<text transform="translate(28.17,66.75) scale(1.0553,1)" font-size="22.75">10000</text>
<text transform="translate(574.68,723.90) scale(1.0345,1)" font-size="23.5">Sampled Days</text>
<g transform="translate(18.1,0) rotate(-90)"><text transform="translate(-423.53,0.00) scale(1.0012,1)" font-size="23.5">BTC price in USD</text></g>
<rect x="119.7" y="14.5" width="224.9" height="161.1" rx="4.5" ry="4.5" fill="#fff" fill-opacity="0.8" stroke="#cccccc" stroke-width="1.2"/>
<path d="M126.9,31.7H170.7" stroke="#000" stroke-width="2.1"/>
<path d="M144.5,27.5L152.89999999999998,35.9M152.89999999999998,27.5L144.5,35.9" stroke="#000" stroke-width="1.4"/>
<path d="M126.9,62.6H170.7" stroke="#d62728" stroke-width="2.1" stroke-dasharray="7.7,3.3"/>
<path d="M126.9,94.1H170.7" stroke="#1f77b4" stroke-width="2.1" stroke-dasharray="7.7,3.3"/>
<circle cx="148.7" cy="94.1" r="5.2" fill="#1f77b4"/>
<path d="M126.9,125.3H170.7" stroke="#2ca02c" stroke-width="2.1"/>
<circle cx="148.7" cy="125.3" r="2.8" fill="#2ca02c"/>
<path d="M126.9,156.4H170.7" stroke="#ff7f0e" stroke-width="2.1" stroke-dasharray="7.7,3.3"/>
<path d="M148.7,152.6V160.20000000000002M144.89999999999998,156.4H152.5" stroke="#ff7f0e" stroke-width="1.6"/>
<text transform="translate(187.15,39.10) scale(0.9992,1)" font-size="22.7">Actual BTC</text>
<text transform="translate(186.05,70.30) scale(0.9951,1)" font-size="22.7">LSTM 30-days</text>
<text transform="translate(186.46,101.60) scale(0.9968,1)" font-size="22.7">SANN 30-days</text>
<text transform="translate(186.45,132.80) scale(1.0016,1)" font-size="22.7">SVM 30-days</text>
<text transform="translate(186.85,163.80) scale(1.0065,1)" font-size="22.7">ANN 30-days</text>
</g></svg></body></html>
